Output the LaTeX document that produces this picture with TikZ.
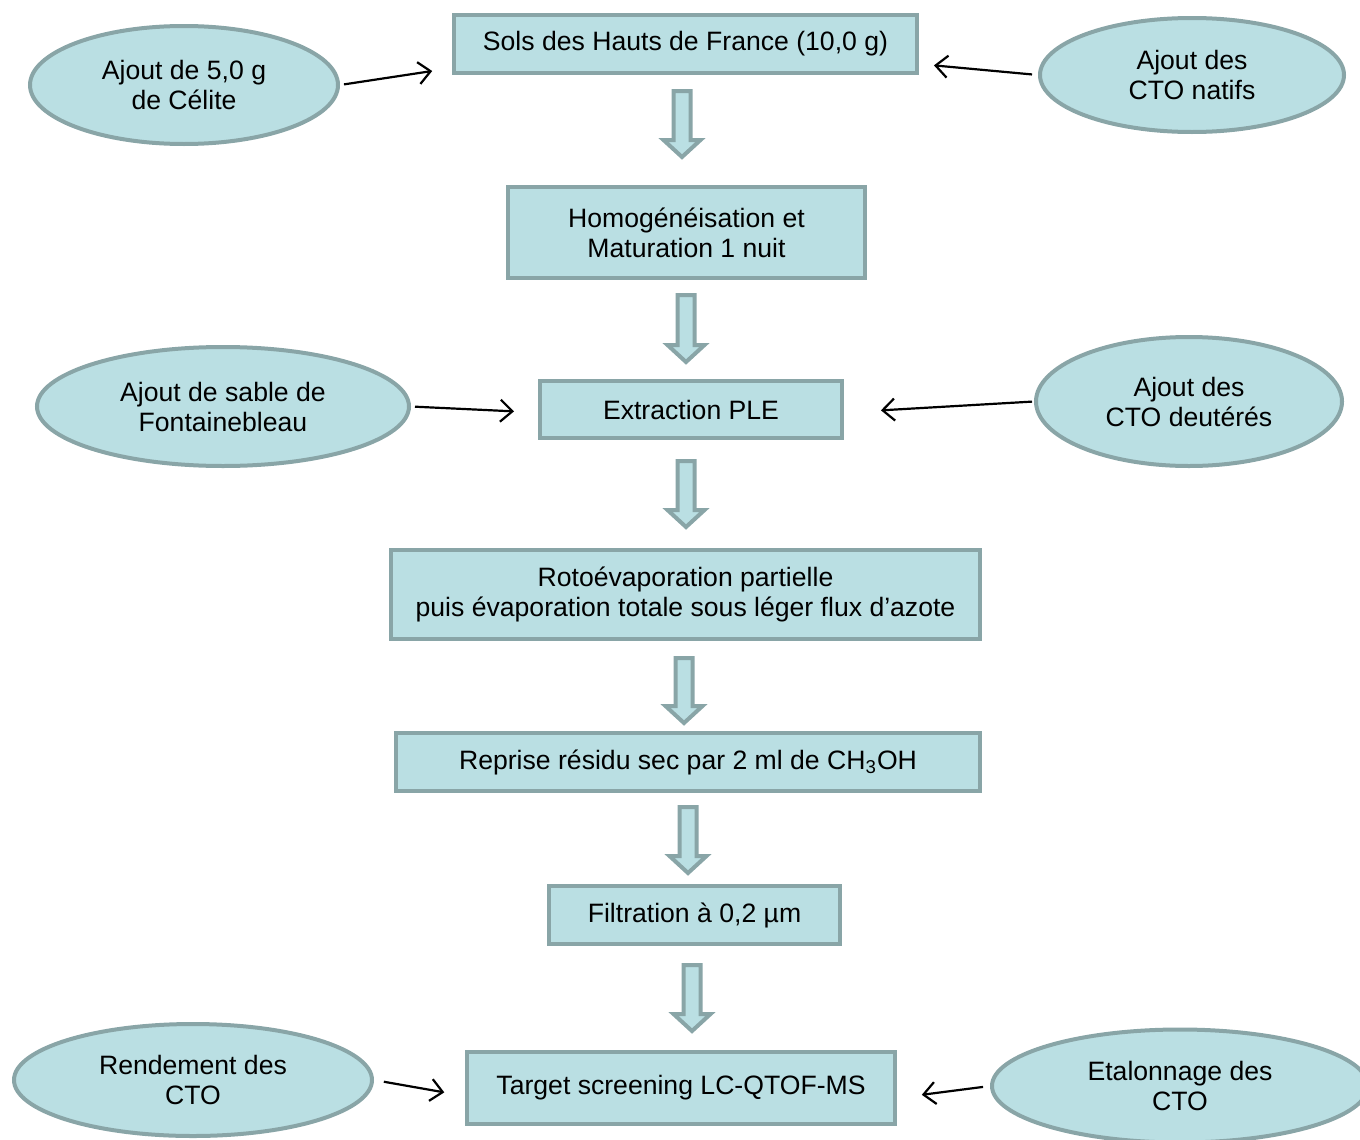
\documentclass[tikz,border=0pt]{standalone}
\usepackage{fontspec}
\setmainfont{Liberation Sans}
\usetikzlibrary{arrows.meta, shapes.geometric}
\definecolor{boxfill}{HTML}{BADFE3}
\definecolor{boxline}{HTML}{89A5A7}

% hollow down arrow: x, top, bottom
\newcommand{\flowarrow}[3]{%
  \draw[blockarrow] (#1-8.5,#2+2) -- (#1+8.5,#2+2) -- (#1+8.5,#3-19) -- (#1+18.5,#3-19)
    -- (#1,#3-2) -- (#1-18.5,#3-19) -- (#1-8.5,#3-19) -- cycle;}

\begin{document}
\begin{tikzpicture}[x=0.5pt, y=-0.5pt,
  every node/.style={font=\fontsize{13.3}{15}\selectfont},
  stepbox/.style={draw=boxline, fill=boxfill, line width=2pt, align=center, inner sep=0pt},
  addon/.style={ellipse, draw=boxline, fill=boxfill, line width=2pt, align=center, inner sep=0pt},
  conn/.style={-{Straight Barb[length=6pt,width=11pt]}, line width=1.1pt, black},
  blockarrow/.style={draw=boxline, fill=boxfill, line width=2pt, line join=miter}]
  \useasboundingbox (0,0) rectangle (1360,1140);

  % Main steps
  \node[stepbox, minimum width=231.5pt, minimum height=29pt] (sols) at (685.5,44) {Sols des Hauts de France (10,0 g)};
  \node[stepbox, minimum width=178.5pt, minimum height=45.5pt] (homog) at (686.5,232.5) {Homogénéisation et\\Maturation 1 nuit};
  \node[stepbox, minimum width=151pt, minimum height=28.5pt] (ple) at (691,409.5) {Extraction PLE};
  \node[stepbox, minimum width=294.5pt, minimum height=44.5pt] (roto) at (685.5,594.5) {Rotoévaporation partielle\\puis évaporation totale sous léger flux d’azote};
  \node[stepbox, minimum width=292pt, minimum height=29pt] (reprise) at (688,762) {Reprise résidu sec par 2 ml de CH\textsubscript{3}OH};
  \node[stepbox, minimum width=145.5pt, minimum height=29pt] (filtr) at (694.5,915) {Filtration à 0,2 µm};
  \node[stepbox, minimum width=214pt, minimum height=36pt] (target) at (681,1088) {Target screening LC-QTOF-MS};

  % Additions
  \node[addon, minimum width=154pt, minimum height=59pt] (celite) at (184,85) {Ajout de 5,0 g\\de Célite};
  \node[addon, minimum width=152pt, minimum height=57pt] (natifs) at (1192,75) {Ajout des\\CTO natifs};
  \node[addon, minimum width=186pt, minimum height=59.5pt] (sable) at (223,406.5) {Ajout de sable de\\Fontainebleau};
  \node[addon, minimum width=153pt, minimum height=64.5pt] (deut) at (1189,401.5) {Ajout des\\CTO deutérés};
  \node[addon, minimum width=179pt, minimum height=56pt] (rdt) at (193,1080) {Rendement des\\CTO};
  \node[addon, minimum width=188pt, minimum height=56.5pt] (etal) at (1180,1086) {Etalonnage des\\CTO};

  % Thin arrows into the steps
  \draw[conn, shorten <=2pt, shorten >=10pt] (celite.east) -- ([yshift=-12pt]sols.west);
  \draw[conn, shorten <=3pt, shorten >=7.5pt] (natifs.west) -- ([yshift=-10pt]sols.east);
  \draw[conn, shorten <=2pt, shorten >=12pt] (sable.east) -- ([yshift=-1.5pt]ple.west);
  \draw[conn, shorten <=1pt, shorten >=18.5pt] (deut.west) -- ([yshift=-1.5pt]ple.east);
  \draw[conn, shorten <=5pt, shorten >=10.5pt] (rdt.east) -- ([yshift=-4pt]target.west);
  \draw[conn, shorten <=3.5pt, shorten >=12.5pt] (etal.west) -- ([yshift=-5pt]target.east);

  % Block arrows between the steps
  \flowarrow{682}{89}{159}
  \flowarrow{686}{293}{364}
  \flowarrow{686}{459}{529}
  \flowarrow{684}{656}{725}
  \flowarrow{688}{805}{875}
  \flowarrow{692}{963}{1033}
\end{tikzpicture}
\end{document}
